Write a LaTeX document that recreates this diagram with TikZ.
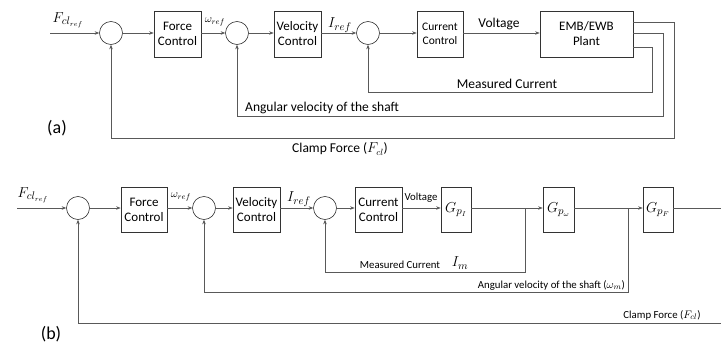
\documentclass[tikz,border=0pt]{standalone}
\usepackage{fontspec}
\setmainfont{Carlito}
\usetikzlibrary{arrows.meta}

\tikzset{
  blk/.style={draw=black!80, line width=0.7pt, align=center, inner sep=0pt,
              font=\fontsize{13}{15}\selectfont},
  sumj/.style={draw=black!80, line width=0.6pt, circle, minimum size=23pt, inner sep=0pt},
  sig/.style={draw=black!65, line width=0.65pt},
  arr/.style={sig, -{Stealth[length=4.5pt,width=3.5pt]}},
  lbl/.style={inner sep=0pt, font=\fontsize{13.5}{15}\selectfont},
  slbl/.style={inner sep=0pt, font=\fontsize{10.8}{12}\selectfont},
  mlbl/.style={inner sep=0pt, font=\fontsize{15}{17}\selectfont},
}

\begin{document}
\begin{tikzpicture}[x=1pt, y=-1pt]
\useasboundingbox (0,0) rectangle (721,343);

% ---------------- (a) ----------------
\node[sumj] (a1) at (111,33) {};
\node[blk, minimum width=47pt, minimum height=46pt] (afc) at (177.5,34) {Force\\Control};
\node[sumj] (a2) at (237,33) {};
\node[blk, minimum width=47pt, minimum height=46pt] (avc) at (297.5,34) {Velocity\\Control};
\node[sumj] (a3) at (368,33) {};
\node[blk, minimum width=46pt, minimum height=46pt, font=\fontsize{11.5}{14}\selectfont] (acc) at (440,34) {Current\\Control};
\node[blk, minimum width=93pt, minimum height=46pt] (apl) at (586.5,34) {EMB/EWB\\Plant};

\coordinate (ain) at (50,33);
\draw[arr] (ain) -- (a1);
\draw[arr] (a1) -- (afc.west |- a1);
\draw[arr] (afc.east |- a2) -- (a2);
\draw[arr] (a2) -- (avc.west |- a2);
\draw[arr] (avc.east |- a3) -- (a3);
\draw[arr] (a3) -- (acc.west |- a3);
\draw[arr] (acc.east |- a3) -- (apl.west |- a3);

\node[mlbl] (afin) at (68,20) {$F_{cl_{ref}}$};
\node[inner sep=0pt, font=\fontsize{11}{13}\selectfont] (awr) at (215,22) {$\omega_{ref}$};
\node[mlbl] (air) at (340,25) {$I_{ref}$};
\node[lbl] (avolt) at (499,24) {Voltage};

% feedback paths of (a)
\coordinate (af1) at (633,22);
\coordinate (af2) at (633,33);
\coordinate (af3) at (633,47);
\draw[arr] (af3) -- (652,47) -- (652,92) -- (a3.south |- 0,92) -- (a3.south);
\draw[arr] (af2) -- (663,33) -- (663,116) -- (a2.south |- 0,116) -- (a2.south);
\draw[arr] (af1) -- (674,22) -- (674,138) -- (a1.south |- 0,138) -- (a1.south);

\node[lbl] (ameas) at (507,84) {Measured Current};
\node[lbl, anchor=west] (aang) at (245,108) {Angular velocity of the shaft};
\node[lbl] (aclamp) at (340,149) {Clamp Force ($F_{cl}$)};
\node[inner sep=0pt, font=\fontsize{18}{20}\selectfont] (alab) at (57,128) {(a)};

% ---------------- (b) ----------------
\node[sumj] (b1) at (78,208) {};
\node[blk, minimum width=46pt, minimum height=45pt] (bfc) at (144,209.5) {Force\\Control};
\node[sumj] (b2) at (204,208) {};
\node[blk, minimum width=47pt, minimum height=45pt] (bvc) at (256.5,209.5) {Velocity\\Control};
\node[sumj] (b3) at (325,208) {};
\node[blk, minimum width=47pt, minimum height=45pt] (bcc) at (378.5,209.5) {Current\\Control};
\node[blk, minimum width=30pt, minimum height=45pt, font=\fontsize{15}{17}\selectfont] (bgi) at (456,209.5) {$G_{p_I}$};
\node[blk, minimum width=31pt, minimum height=45pt, font=\fontsize{15}{17}\selectfont] (bgw) at (558.5,209.5) {$G_{p_\omega}$};
\node[blk, minimum width=30pt, minimum height=45pt, font=\fontsize{15}{17}\selectfont] (bgf) at (658,209.5) {$G_{p_F}$};

\coordinate (bin) at (17,208);
\coordinate (bj1) at (525,208);
\coordinate (bj2) at (628,208);
\coordinate (bout) at (721,208);
\coordinate (bcl) at (721,323);

\draw[arr] (bin) -- (b1);
\draw[arr] (b1) -- (bfc.west |- b1);
\draw[arr] (bfc.east |- b2) -- (b2);
\draw[arr] (b2) -- (bvc.west |- b2);
\draw[arr] (bvc.east |- b3) -- (b3);
\draw[arr] (b3) -- (bcc.west |- b3);
\draw[arr] (bcc.east |- b3) -- (bgi.west |- b3);
\draw[arr] (bgi.east |- bj1) -- (bgw.west |- bj1);
\draw[arr] (bgw.east |- bj2) -- (bgf.west |- bj2);
\draw[sig] (bgf.east |- bout) -- (bout);

\draw[arr] (bj1) -- (525,272) -- (b3.south |- 0,272) -- (b3.south);
\draw[arr] (bj2) -- (628,292) -- (b2.south |- 0,292) -- (b2.south);
\draw[arr] (bcl) -- (b1.south |- bcl) -- (b1.south);

\node[mlbl] (bfin) at (33,195) {$F_{cl_{ref}}$};
\node[inner sep=0pt, font=\fontsize{11}{13}\selectfont] (bwr) at (181,197) {$\omega_{ref}$};
\node[mlbl] (bir) at (299,199) {$I_{ref}$};
\node[slbl] (bvolt) at (421,198) {Voltage};
\node[slbl] (bmeas) at (400,265) {Measured Current};
\node[mlbl] (bim) at (460,263) {$I_m$};
\node[slbl, anchor=east] (bang) at (625,285) {Angular velocity of the shaft ($\omega_m$)};
\node[slbl] (bclamp) at (662,315) {Clamp Force ($F_{cl}$)};
\node[inner sep=0pt, font=\fontsize{18}{20}\selectfont] (blab) at (51,334) {(b)};

\end{tikzpicture}
\end{document}
